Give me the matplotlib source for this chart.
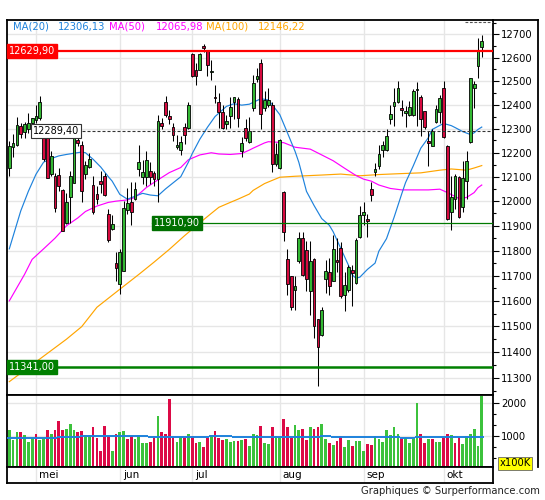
import matplotlib
matplotlib.use("Agg")
import matplotlib.pyplot as plt
import matplotlib.transforms as mtransforms
from matplotlib.lines import Line2D
from matplotlib.ticker import FixedLocator, FuncFormatter, NullFormatter
import numpy as np

# daily candles (index 0 = first visible day)
opens = [12137, 12224, 12233, 12310, 12286, 12296, 12324, 12337, 12343, 12275,
         12268, 12110, 12103, 12106, 12047, 11912, 12018, 12076, 12252, 12230,
         12113, 12141, 12065, 12029, 12083, 12103, 11948, 11889, 11749, 11667,
         11719, 11966, 11997, 12010, 12132, 12098, 12098, 12125, 12114, 12091,
         12324, 12412, 12352, 12307, 12224, 12210, 12307, 12303, 12616, 12547,
         12547, 12650, 12630, 12539, 12434, 12412, 12369, 12317, 12351, 12412,
         12425, 12205, 12303, 12244, 12386, 12509, 12576, 12386, 12400, 12400,
         12152, 12138, 12037, 11765, 11697, 11642, 11759, 11849, 11802, 11638,
         11766, 11529, 11466, 11688, 11716, 11680, 11762, 11812, 11625, 11645,
         11723, 11671, 11855, 11942, 11929, 12049, 12119, 12144, 12210, 12210,
         12340, 12396, 12412, 12386, 12365, 12358, 12356, 12460, 12431, 12372,
         12247, 12227, 12326, 12370, 12470, 12227, 11957, 12008, 12100, 11975,
         12083, 12243, 12470, 12562, 12645]
highs = [12247, 12275, 12349, 12324, 12326, 12366, 12345, 12400, 12438, 12296,
         12275, 12206, 12117, 12138, 12049, 12035, 12124, 12296, 12268, 12247,
         12165, 12199, 12103, 12063, 12124, 12117, 11968, 11942, 11794, 11807,
         11999, 12054, 12080, 12080, 12230, 12170, 12207, 12159, 12125, 12355,
         12345, 12438, 12379, 12321, 12271, 12268, 12324, 12410, 12621, 12576,
         12621, 12659, 12633, 12590, 12484, 12450, 12400, 12358, 12434, 12434,
         12434, 12265, 12341, 12347, 12526, 12554, 12595, 12456, 12470, 12410,
         12241, 12255, 12040, 11806, 11700, 11697, 11876, 11876, 11839, 11839,
         11770, 11529, 11578, 11762, 11769, 11862, 11849, 11835, 11716, 11742,
         11742, 11849, 11982, 11996, 11949, 12080, 12155, 12230, 12247, 12299,
         12400, 12470, 12499, 12421, 12393, 12414, 12465, 12495, 12442, 12375,
         12289, 12296, 12400, 12442, 12499, 12230, 12103, 12110, 12103, 12165,
         12206, 12515, 12499, 12683, 12697]
lows = [12103, 12183, 12227, 12261, 12261, 12282, 12310, 12324, 12337, 12165,
        12093, 12103, 11957, 12042, 11878, 11908, 11910, 12076, 12227, 11995,
        12090, 12137, 11948, 11989, 12035, 12022, 11836, 11882, 11679, 11629,
        11717, 11949, 11902, 12003, 12105, 12070, 12063, 12070, 12063, 11997,
        12296, 12349, 12317, 12248, 12216, 12189, 12234, 12296, 12519, 12484,
        12545, 12625, 12522, 12505, 12408, 12304, 12300, 12296, 12304, 12338,
        12308, 12180, 12248, 12240, 12372, 12498, 12296, 12375, 12392, 12118,
        12145, 12132, 11839, 11625, 11566, 11566, 11752, 11697, 11638, 11546,
        11456, 11270, 11462, 11632, 11625, 11678, 11716, 11612, 11560, 11636,
        11579, 11665, 11849, 11902, 11855, 12002, 12105, 12130, 12183, 12206,
        12317, 12310, 12408, 12351, 12305, 12351, 12351, 12310, 12268, 12300,
        12144, 12225, 12324, 12324, 12262, 11925, 11881, 11968, 11932, 11955,
        12008, 12238, 12386, 12513, 12602]
closes = [12227, 12238, 12315, 12278, 12318, 12324, 12344, 12352, 12412, 12172,
          12096, 12186, 11974, 12060, 11878, 11995, 12101, 12275, 12238, 12042,
          12148, 12172, 11955, 12009, 12072, 12026, 11843, 11908, 11732, 11794,
          11971, 11992, 11956, 12050, 12159, 12118, 12170, 12098, 12091, 12331,
          12310, 12358, 12338, 12271, 12230, 12244, 12271, 12400, 12522, 12522,
          12616, 12640, 12568, 12544, 12429, 12370, 12304, 12330, 12392, 12434,
          12342, 12240, 12262, 12289, 12491, 12522, 12360, 12421, 12421, 12152,
          12193, 12250, 11876, 11667, 11575, 11657, 11852, 11701, 11686, 11759,
          11500, 11420, 11566, 11720, 11657, 11806, 11753, 11618, 11664, 11735,
          11710, 11842, 11945, 11956, 11918, 12025, 12130, 12192, 12230, 12268,
          12361, 12413, 12470, 12379, 12374, 12392, 12456, 12466, 12341, 12307,
          12238, 12289, 12382, 12428, 12265, 11929, 12015, 12103, 11936, 12096,
          12165, 12513, 12487, 12630, 12673]

# volume in units of 100K, and its colour per day (G up / R down)
volumes = [1164, 866, 1104, 1104, 1015, 807, 945, 1045, 866, 945,
           1164, 1045, 1164, 1461, 1164, 1193, 1342, 1164, 1104, 1134,
           1015, 1015, 1253, 926, 539, 1283, 955, 539, 1045, 1104,
           1134, 896, 985, 896, 1015, 777, 777, 807, 926, 1610,
           1104, 1045, 2116, 955, 807, 955, 926, 1045, 985, 777,
           807, 658, 926, 1015, 1134, 926, 866, 896, 807, 836,
           836, 866, 896, 688, 1050, 1020, 1293, 778, 747, 1263,
           990, 960, 1505, 1263, 929, 1323, 1172, 1202, 869, 1263,
           1202, 1263, 1354, 899, 778, 717, 838, 990, 657, 869,
           687, 838, 838, 535, 747, 717, 990, 899, 808, 1172,
           1020, 1263, 1050, 899, 929, 778, 899, 1990, 1050, 778,
           899, 899, 808, 808, 929, 1050, 1020, 778, 960, 747,
           990, 1050, 1202, 687, 2212]
vol_dir = ("GGGRGGGRGG" "RGRRRGGGRR" "GGRRRRRGRG" "GRRGGGGRRG" "RRRRGGRGRR"
           "GRRGRRRGGG" "RGRG"
           "GGRGGRGGRR" "RGGRRGRRGG" "RGRRGGRGGG" "RRGGGGGGGR" "GGGGRRGRGG"
           "RRGRRGGGGG" "G")

# moving averages (day index, level)
ma20_x = [0, 3, 5, 7, 9, 11, 13, 15, 19, 20, 22, 24, 26, 27, 29, 31, 33, 35, 37, 39,
          41, 43, 45, 47, 48, 50, 52, 54, 57, 59, 61, 63, 66, 68, 69, 71, 73, 75, 76, 78,
          80, 82, 84, 85, 87, 89, 90, 91, 92, 94, 96, 97, 99, 101, 103, 104, 106, 108, 110, 111,
          113, 114, 116, 117, 119, 121, 122, 123, 124]
ma20_y = [11807, 11960, 12040, 12110, 12160, 12175, 12186, 12192, 12202, 12199,
          12172, 12140, 12100, 12082, 12028, 12008, 12020, 12032, 12025, 12022,
          12050, 12075, 12100, 12160, 12195, 12255, 12305, 12350, 12393, 12404,
          12398, 12402, 12425, 12420, 12400, 12358, 12282, 12205, 12159, 12040,
          11982, 11929, 11902, 11876, 11809, 11742, 11703, 11690, 11694, 11725,
          11750, 11798, 11848, 11935, 12030, 12076, 12144, 12218, 12262, 12296,
          12313, 12321, 12312, 12304, 12287, 12275, 12282, 12296, 12306]
ma50_x = [0, 4, 6, 9, 12, 15, 18, 20, 23, 26, 28, 31, 33, 36, 39, 42, 45, 47, 50, 53,
          55, 58, 61, 63, 64, 67, 68, 72, 75, 79, 82, 85, 88, 91, 93, 95, 97, 100, 103, 110,
          113, 115, 117, 118, 120, 122, 123, 124]
ma50_y = [11600, 11705, 11765, 11807, 11850, 11900, 11932, 11958, 11980, 11995,
          12000, 12005, 12015, 12056, 12087, 12117, 12138, 12170, 12190, 12199,
          12194, 12192, 12196, 12210, 12218, 12240, 12245, 12241, 12222, 12214,
          12190, 12166, 12135, 12105, 12090, 12082, 12066, 12052, 12046, 12046,
          12049, 12035, 12019, 12011, 12015, 12035, 12055, 12066]
ma100_x = [0, 15, 19, 23, 29, 34, 38, 42, 46, 50, 53, 55, 58, 60, 63,
           64, 67, 71, 75, 82, 87, 92, 97, 103, 108, 113, 116, 120, 122, 124]
ma100_y = [11286, 11450, 11499, 11575, 11646, 11705, 11754, 11805, 11860, 11912,
           11950, 11975, 11995, 12008, 12029, 12044, 12072, 12098, 12102, 12107,
           12111, 12104, 12109, 12113, 12116, 12127, 12132, 12127, 12136, 12146]

# volume average, drawn as flat steps starting at these days
vma_x = [0, 13, 19, 37, 53, 59, 82, 85, 103, 107]
vma_y = [920, 960, 980, 960, 990, 960, 980, 950, 920, 970]

months = ['mei', 'jun', 'jul', 'aug', 'sep', 'okt']
month_start = [7, 29, 48, 71, 93, 114]

legend = [('MA(20)', '#1e82dc'), ('12306,13', '#1e82dc'),
          ('MA(50)', '#ff00ff'), ('12065,98', '#ff00ff'),
          ('MA(100)', '#ffa500'), ('12146,22', '#ffa500')]
legend_px = [13, 58, 109, 156, 206, 258]

W, H = 545, 500
fig = plt.figure(figsize=(W / 100, H / 100), dpi=100)


def px_box(left, top, right, bottom):
    return [left / W, 1 - bottom / H, (right - left) / W, (bottom - top) / H]


ax = fig.add_axes(px_box(7, 20, 493, 395))
axv = fig.add_axes(px_box(7, 395, 493, 467))
axm = fig.add_axes(px_box(7, 467, 493, 483))

GREEN = '#33b833'
RED = '#d60a3f'
GRID = '#e6e6e6'
XMAX = 126.95

x = np.arange(len(closes))
o = np.array(opens, dtype=float)
c = np.array(closes, dtype=float)
up = c >= o

for a in (ax, axv, axm):
    a.set_xlim(-0.6, XMAX)
    for s in a.spines.values():
        s.set_linewidth(1.3)
        s.set_color('black')
    a.tick_params(axis='x', bottom=False, labelbottom=False)
    for m in month_start:
        a.axvline(m, color=GRID, lw=1.0, zorder=0)

# price panel
ax.set_yscale('log')
ax.set_ylim(11235, 12762)
price_ticks = list(range(11300, 12701, 100))
ax.yaxis.set_major_locator(FixedLocator(price_ticks))
ax.yaxis.set_major_formatter(FuncFormatter(lambda v, p: f'{v:.0f}'))
ax.yaxis.set_minor_locator(FixedLocator([t + 50 for t in range(11200, 12800, 100)]))
ax.yaxis.set_minor_formatter(NullFormatter())
ax.yaxis.tick_right()
ax.tick_params(axis='y', which='major', length=4, width=0.8, labelsize=7.2, pad=2)
ax.tick_params(axis='y', which='minor', length=2.2, width=0.8)
for t in price_ticks:
    ax.axhline(t, color=GRID, lw=1.0, zorder=0)

ax.plot(ma100_x, ma100_y, color='#ffa500', lw=0.85, zorder=2)
ax.plot(ma50_x, ma50_y, color='#ff00ff', lw=0.85, zorder=2)
ax.plot(ma20_x, ma20_y, color='#1e82dc', lw=0.85, zorder=2)

ax.vlines(x, lows, highs, color='black', lw=0.75, zorder=3)
ax.bar(x, np.abs(c - o), bottom=np.minimum(o, c), width=0.72,
       color=np.where(up, GREEN, RED), edgecolor='black', linewidth=0.6, zorder=4)

# horizontal levels with their tags
left_tr = mtransforms.blended_transform_factory(ax.transAxes, ax.transData)
ax.axhline(12629.9, color='#ff0000', lw=1.6, zorder=5)
ax.plot([6, XMAX], [12289.4, 12289.4], color='#333333', lw=0.8,
        ls=(0, (2.7, 1.8)), zorder=5)
ax.plot([37.5, XMAX], [11910.9, 11910.9], color='#007a00', lw=0.9, zorder=5)
ax.axhline(11341, color='#008000', lw=1.8, zorder=5)
ax.plot([119.5, XMAX], [12752, 12752], color='#555555', lw=0.8,
        ls=(0, (2.5, 1.5)), zorder=5)

tag = dict(fontsize=7, ha='left', va='center', zorder=7)
ax.text(0.0045, 12629.9, '12629,90', transform=left_tr, color='white',
        bbox=dict(boxstyle='square,pad=0.2', fc='#ff0000', ec='#ff0000'), **tag)
ax.text(6.2, 12289.4, '12289,40', color='black',
        bbox=dict(boxstyle='square,pad=0.2', fc='white', ec='#333333', lw=0.8), **tag)
ax.text(38.0, 11910.9, '11910,90', color='white',
        bbox=dict(boxstyle='square,pad=0.2', fc='#007000', ec='#007000'), **tag)
ax.text(0.0045, 11341, '11341,00', transform=left_tr, color='white',
        bbox=dict(boxstyle='square,pad=0.2', fc='#008000', ec='#008000'), **tag)

for (s, col), px in zip(legend, legend_px):
    fig.text(px / W, 1 - 26.7 / H, s, color=col, fontsize=7.2, ha='left', va='center')

# volume panel
axv.bar(x, volumes, width=0.72, zorder=2,
        color=['#3cc23c' if d == 'G' else '#dc0a46' for d in vol_dir])
axv.set_ylim(60, 2230)
axv.yaxis.tick_right()
axv.yaxis.set_major_locator(FixedLocator([1000, 2000]))
axv.yaxis.set_minor_locator(FixedLocator([333, 667, 1333, 1667]))
axv.yaxis.set_minor_formatter(NullFormatter())
axv.tick_params(axis='y', which='major', length=4, width=0.8, labelsize=7.2, pad=2)
axv.tick_params(axis='y', which='minor', length=2.2, width=0.8)
for t in (1000, 2000):
    axv.axhline(t, color=GRID, lw=1.0, zorder=0)
edges = [-0.5] + [k - 0.5 for k in vma_x[1:]] + [len(closes) - 0.5]
axv.hlines(vma_y, edges[:-1], edges[1:], color='#1e82dc', lw=1.4, zorder=3)

# month strip
axm.set_yticks([])
for m, name in zip(month_start, months):
    axm.text(m + 0.8, 0.5, name, fontsize=7.5, ha='left', va='center',
             transform=mtransforms.blended_transform_factory(axm.transData, axm.transAxes))

fig.text(515 / W, 1 - 463 / H, 'x100K', fontsize=7.2, ha='center', va='center',
         bbox=dict(boxstyle='square,pad=0.15', fc='#ffff00', ec='#666666', lw=0.6))
fig.text(540 / W, 1 - 491 / H, 'Graphiques \u00a9 Surperformance.com', fontsize=7.2,
         ha='right', va='center', color='#222222')

# outer frame around the right-hand scale
fig.add_artist(Line2D([493 / W, 538 / W], [1 - 20 / H, 1 - 20 / H], color='black', lw=1.3))
fig.add_artist(Line2D([538 / W, 538 / W], [1 - 20 / H, 1 - 467 / H], color='black', lw=1.3))

fig.savefig('out.png', dpi=100)
